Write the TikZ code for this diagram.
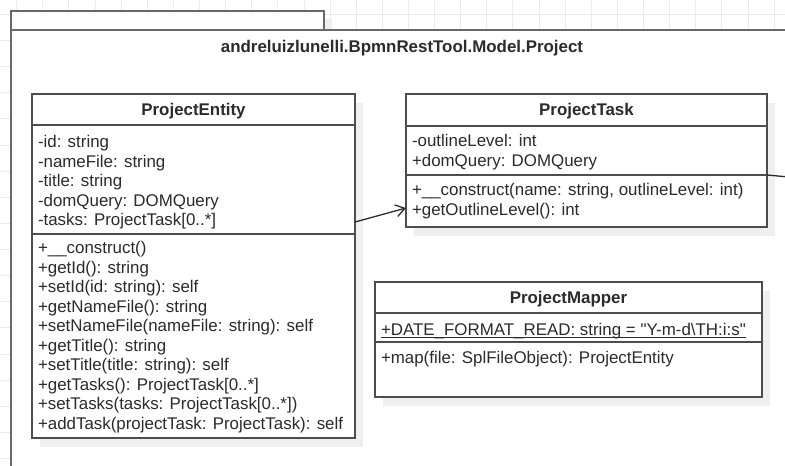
\documentclass[tikz,border=0pt]{standalone}
\usepackage{fontspec}
\setmainfont{Liberation Sans}
\usetikzlibrary{arrows.meta,shadows,calc}
\definecolor{umlline}{HTML}{4D4D4D}
\definecolor{umltext}{HTML}{2B2B2B}
\definecolor{gridline}{HTML}{EBEBEB}
\definecolor{shade}{HTML}{EFEFEF}
\begin{document}
\begin{tikzpicture}[x=1pt,y=-1pt,
  gridrule/.style={draw=gridline, line width=1pt},
  pkgframe/.style={draw=umlline!85, line width=2pt, fill=white, inner sep=0pt, outer sep=0pt, anchor=north west},
  classbox/.style={draw=umlline, line width=1.6pt, fill=white, inner sep=0pt, outer sep=0pt, anchor=north west,
    drop shadow={shadow xshift=8pt, shadow yshift=-9pt, fill=shade, opacity=1}},
  tabshadow/.style={drop shadow={shadow xshift=8pt, shadow yshift=-8pt, fill=shade, opacity=1}},
  sep/.style={draw=umlline, line width=1.6pt},
  member/.style={inner sep=0pt, outer sep=0pt, anchor=base west, text=umltext, font=\fontsize{16.9}{19.5}\selectfont},
  header/.style={inner sep=0pt, outer sep=0pt, anchor=base, text=umltext, font=\fontsize{16.9}{19.5}\selectfont\bfseries},
  assoc/.style={draw=umltext, line width=1.3pt, -{Straight Barb[length=9pt,width=12pt,line width=1.3pt]}},
  plainlink/.style={draw=umltext, line width=1.3pt}]
\useasboundingbox (0,0) rectangle (785,466);
\clip (0,0) rectangle (785,466);

% background grid
\foreach \k in {0,...,29}
  \draw[gridrule] ({16.7+26.12*\k},0) -- ({16.7+26.12*\k},466);
\foreach \k in {0,...,17}
  \draw[gridrule] (0,{14.5+26.12*\k}) -- (785,{14.5+26.12*\k});

% package frame with its tab
\node[pkgframe, tabshadow, minimum width=312.5pt, minimum height=18.5pt] (pkgtab) at (11,11) {};
\node[pkgframe, minimum width=800pt, minimum height=460pt] (pkg) at (11,29.5) {};
\node[header] (pkgname) at (402,52.5) {andreluizlunelli.BpmnRestTool.Model.Project};

% class ProjectEntity
\node[classbox, minimum width=323pt, minimum height=344pt] (pe) at (32,94) {};
\node[header] (pe-name) at (193.5,115.5) {ProjectEntity};
\draw[sep] (pe.west |- 0,125) -- (pe.east |- 0,125);
\draw[sep] (pe.west |- 0,234) -- (pe.east |- 0,234);
\foreach \t [count=\i from 0] in {{-id: string},{-nameFile: string},{-title: string},
    {-domQuery: DOMQuery},{-tasks: ProjectTask[0..*]}}
  \node[member] (pe-a\i) at (38,{147.5+19.5*\i}) {\t};
\foreach \t [count=\i from 0] in {{+\_\_construct()},{+getId(): string},{+setId(id: string): self},
    {+getNameFile(): string},{+setNameFile(nameFile: string): self},{+getTitle(): string},
    {+setTitle(title: string): self},{+getTasks(): ProjectTask[0..*]},
    {+setTasks(tasks: ProjectTask[0..*])},{+addTask(projectTask: ProjectTask): self}}
  \node[member] (pe-m\i) at (38,{253.5+19.5*\i}) {\t};

% class ProjectTask
\node[classbox, minimum width=361pt, minimum height=133pt] (pt) at (406,94) {};
\node[header] (pt-name) at (586.5,115.5) {ProjectTask};
\draw[sep] (pt.west |- 0,126) -- (pt.east |- 0,126);
\draw[sep] (pt.west |- 0,175) -- (pt.east |- 0,175);
\foreach \t [count=\i from 0] in {{-outlineLevel: int},{+domQuery: DOMQuery}}
  \node[member] (pt-a\i) at (412,{146.5+19.5*\i}) {\t};
\foreach \t [count=\i from 0] in {{+\_\_construct(name: string, outlineLevel: int)},{+getOutlineLevel(): int}}
  \node[member] (pt-m\i) at (412,{195.5+19.5*\i}) {\t};

% class ProjectMapper
\node[classbox, minimum width=387pt, minimum height=115pt] (pm) at (375,282) {};
\node[header] (pm-name) at (568.5,303) {ProjectMapper};
\draw[sep] (pm.west |- 0,313) -- (pm.east |- 0,313);
\draw[sep] (pm.west |- 0,342) -- (pm.east |- 0,342);
\node[member] (pm-a0) at (381,335.5) {+DATE\_FORMAT\_READ: string = \textquotedbl Y-m-d\textbackslash TH:i:s\textquotedbl};
\draw[draw=umltext, line width=1pt] ($(pm-a0.base west)+(0,1.8)$) -- ($(pm-a0.base east)+(0,1.8)$);
\node[member] (pm-m0) at (381,363.5) {+map(file: SplFileObject): ProjectEntity};

% associations
\draw[assoc] (pe.east |- 0,222) -- (pt.west |- 0,208);
\coordinate (pt-out) at (800,178);
\draw[plainlink] (pt.east |- 0,175) -- (pt-out);
\end{tikzpicture}
\end{document}
